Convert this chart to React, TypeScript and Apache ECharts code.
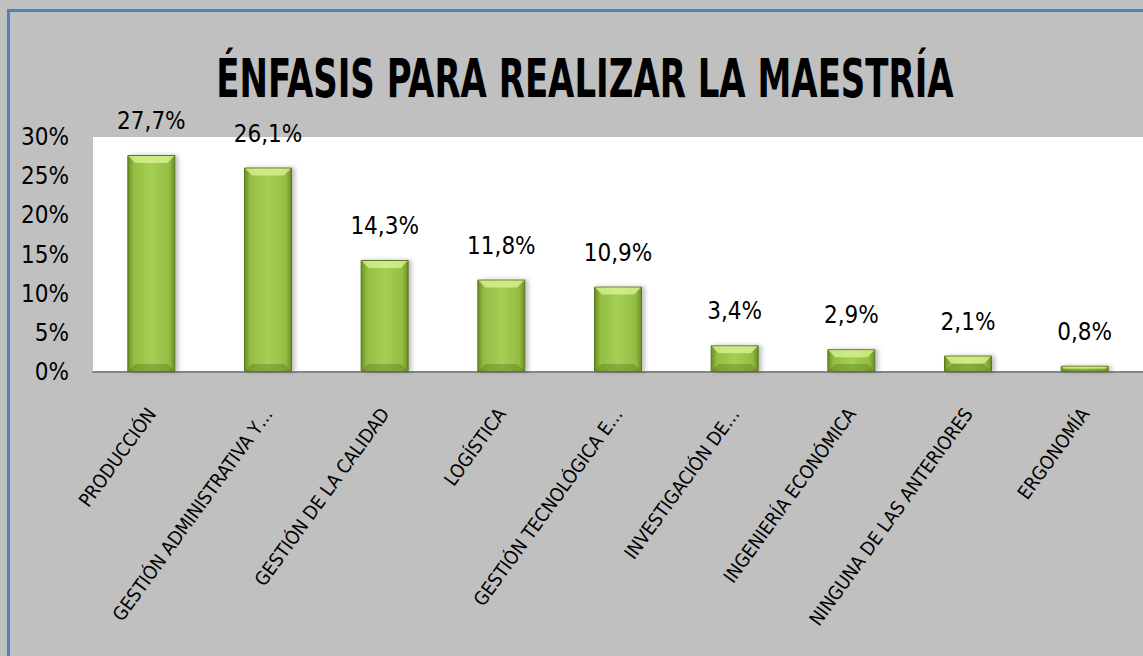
import React, { useEffect, useRef } from "react";
import * as echarts from "echarts";

const categories = [
  "PRODUCCIÓN",
  "GESTIÓN ADMINISTRATIVA Y…",
  "GESTIÓN DE LA CALIDAD",
  "LOGÍSTICA",
  "GESTIÓN TECNOLÓGICA E…",
  "INVESTIGACIÓN DE…",
  "INGENIERÍA ECONÓMICA",
  "NINGUNA DE LAS ANTERIORES",
  "ERGONOMÍA",
];
const values = [27.7, 26.1, 14.3, 11.8, 10.9, 3.4, 2.9, 2.1, 0.8];
const yTicks = [0, 5, 10, 15, 20, 25, 30];
const titleText = "ÉNFASIS PARA REALIZAR LA MAESTRÍA";

const NARROW = "'Liberation Sans Narrow', 'DejaVu Sans Condensed', sans-serif";
const BAR_W = 48;

export default function App() {
  const ref = useRef<HTMLDivElement>(null);
  useEffect(() => {
    if (!ref.current) return;
    const chart = echarts.init(ref.current, undefined, { renderer: "svg" });
    const barColor = new echarts.graphic.LinearGradient(0, 0, 1, 0, [
      { offset: 0, color: "#6c8c25" },
      { offset: 0.12, color: "#93bd42" },
      { offset: 0.5, color: "#a6cf55" },
      { offset: 0.88, color: "#93bd42" },
      { offset: 1, color: "#6c8c25" },
    ]);
    chart.setOption({
      animation: false,
      backgroundColor: "#c0c0c0",
      graphic: [
        {
          type: "polyline",
          shape: { points: [[8.5, 656], [8.5, 10.5], [1143, 10.5]] },
          style: { stroke: "#4f81bd", lineWidth: 3, fill: "none" },
          z: 100,
        },
        {
          type: "text",
          x: 585,
          y: 78,
          scaleX: 0.7,
          scaleY: 1,
          z: 100,
          style: {
            text: titleText,
            fontFamily: NARROW,
            fontWeight: "bold",
            fontSize: 54,
            fill: "#000",
            textAlign: "center",
            textVerticalAlign: "middle",
            shadowColor: "rgba(0,0,0,0.25)",
            shadowOffsetX: 2,
            shadowOffsetY: 2,
            shadowBlur: 2,
          },
        },
      ],
      grid: {
        left: 93,
        top: 137,
        right: 0,
        bottom: 284,
        show: true,
        backgroundColor: "#ffffff",
        borderWidth: 0,
      },
      xAxis: {
        type: "category",
        data: categories,
        axisLine: { show: true, lineStyle: { color: "#868686", width: 2 } },
        axisTick: { show: false },
        axisLabel: {
          interval: 0,
          rotate: 54,
          margin: 38,
          fontFamily: NARROW,
          fontSize: 19,
          color: "#000",
        },
      },
      yAxis: {
        type: "value",
        min: 0,
        max: 30,
        interval: 5,
        splitLine: { show: false },
        axisLine: { show: false },
        axisTick: { show: false },
        axisLabel: {
          margin: 24,
          fontFamily: NARROW,
          fontSize: 24,
          color: "#000",
          formatter: (v: number) => (yTicks.includes(v) ? `${v}%` : ""),
        },
      },
      series: [
        {
          type: "bar",
          data: values,
          barWidth: BAR_W,
          z: 2,
          itemStyle: {
            color: barColor,
            borderColor: "#5a781c",
            borderWidth: 1,
            shadowColor: "rgba(0,0,0,0.25)",
            shadowBlur: 4,
            shadowOffsetX: 3,
            shadowOffsetY: 0,
          },
          label: {
            show: true,
            position: "top",
            distance: 22,
            fontFamily: NARROW,
            fontSize: 24,
            color: "#000",
            formatter: (p: any) => `${String(p.value.toFixed(1)).replace(".", ",")}%`,
          },
        },
        {
          type: "custom",
          z: 3,
          silent: true,
          data: values.map((v, i) => [i, v]),
          renderItem: (params: any, api: any) => {
            const top = api.coord([api.value(0), api.value(1)]);
            const base = api.coord([api.value(0), 0]);
            const x0 = top[0] - BAR_W / 2 + 1;
            const x1 = top[0] + BAR_W / 2 - 1;
            const yT = top[1] + 1;
            const yB = base[1] - 1;
            const h = yB - yT;
            const d = Math.min(7, h / 2);
            return {
              type: "group",
              children: [
                {
                  type: "polygon",
                  shape: { points: [[x0, yT], [x1, yT], [x1 - d, yT + d], [x0 + d, yT + d]] },
                  style: { fill: "rgba(220,245,150,0.75)" },
                },
                {
                  type: "polygon",
                  shape: { points: [[x0, yB], [x1, yB], [x1 - d, yB - d], [x0 + d, yB - d]] },
                  style: { fill: "rgba(80,110,20,0.35)" },
                },
              ],
            };
          },
        },
      ],
    });
    return () => chart.dispose();
  }, []);
  return (
    <div
      ref={ref}
      style={{ position: "absolute", left: 0, top: 0, width: 1143, height: 656 }}
    />
  );
}
